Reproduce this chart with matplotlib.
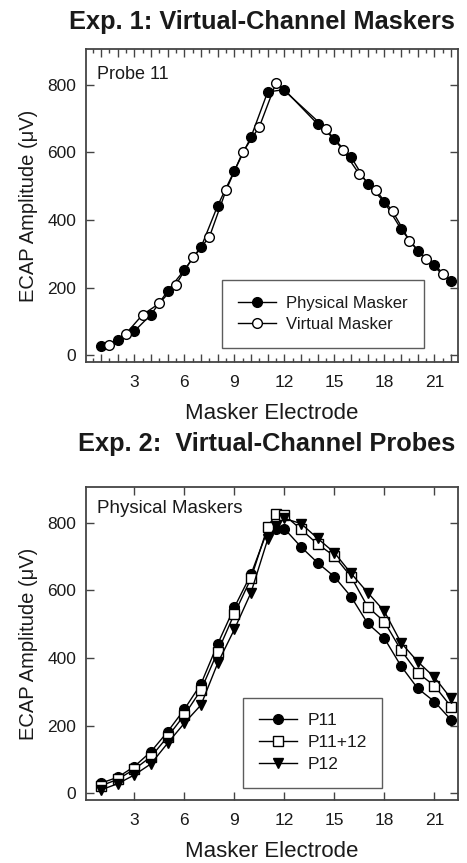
import matplotlib
matplotlib.use("Agg")
import matplotlib.pyplot as plt
from matplotlib.ticker import MultipleLocator, FixedLocator, FuncFormatter

plt.rcParams['font.family'] = ['Liberation Sans', 'DejaVu Sans']

# ---- Exp. 1 data ----
phys_x = [1, 2, 3, 4, 5, 6, 7, 8, 9, 10, 11, 12, 14, 15, 16, 17, 18, 19, 20, 21, 22]
phys_y = [27, 44, 71, 120, 190, 252, 319, 442, 545, 645, 778, 785, 683, 639, 586, 505, 453, 373, 308, 267, 219]
virt_x = [1.5, 2.5, 3.5, 4.5, 5.5, 6.5, 7.5, 8.5, 9.5, 10.5, 11.5, 14.5, 15.5, 16.5, 17.5, 18.5, 19.5, 20.5, 21.5]
virt_y = [30, 64, 120, 153, 209, 289, 349, 487, 600, 675, 805, 669, 607, 535, 487, 425, 339, 284, 239]

# ---- Exp. 2 data ----
elec = [1, 2, 3, 4, 5, 6, 7, 8, 9, 10, 11, 11.5, 12, 13, 14, 15, 16, 17, 18, 19, 20, 21, 22]
p11 = [30, 47, 79, 123, 182, 248, 323, 441, 549, 647, 778, 780, 782, 728, 681, 640, 581, 502, 458, 376, 310, 271, 217]
p11_12 = [22, 41, 71, 108, 167, 231, 305, 418, 530, 635, 787, 825, 822, 780, 736, 701, 640, 551, 507, 423, 356, 318, 256]
p12 = [10, 28, 54, 87, 148, 207, 261, 384, 484, 593, 750, 790, 812, 797, 753, 711, 650, 593, 538, 445, 389, 343, 280]

xtick_vals = [3, 6, 9, 12, 15, 18, 21]
ytick_vals = [0, 200, 400, 600, 800]

W, H = 467, 863
fig = plt.figure(figsize=(W / 100, H / 100), dpi=100)

def ax_rect(left, top, right, bottom):
    return [left / W, 1 - bottom / H, (right - left) / W, (bottom - top) / H]

ax1 = fig.add_axes(ax_rect(86, 49, 458, 362))
ax2 = fig.add_axes(ax_rect(86, 487, 458, 800))

txt = '#1a1a1a'
spc = '#444444'
ms = 7

def style(ax):
    ax.set_xlim(0.1, 22.42)
    ax.set_ylim(-20, 905)
    ax.yaxis.set_major_locator(FixedLocator(ytick_vals))
    for s in ax.spines.values():
        s.set_color(spc)
        s.set_linewidth(1.3)
    ax.tick_params(axis='both', which='major', direction='in', length=6, width=1,
                   top=True, right=True, labelsize=12.5, colors=txt, color=spc)
    ax.tick_params(axis='x', which='major', pad=9)
    ax.tick_params(axis='y', which='major', pad=7)
    ax.set_xlabel('Masker Electrode', fontsize=16, color=txt, labelpad=10)
    ax.set_ylabel('ECAP Amplitude (\u03bcV)', fontsize=14.5, color=txt)
    ax.yaxis.set_label_coords(-0.128, 0.5)

# top panel: ticks at every half electrode, labels at multiples of 3
style(ax1)
ax1.xaxis.set_major_locator(MultipleLocator(1))
ax1.xaxis.set_major_formatter(FuncFormatter(lambda v, p: f"{int(round(v))}" if int(round(v)) in xtick_vals else ""))
ax1.xaxis.set_minor_locator(MultipleLocator(0.5))
ax1.tick_params(axis='x', which='major', length=6)
ax1.tick_params(axis='x', which='minor', direction='in', length=3, width=1,
                top=True, bottom=True, color=spc)

ax1.plot(phys_x, phys_y, '-o', color='black', lw=1, ms=ms, mfc='black', mec='black',
         label='Physical Masker', zorder=3)
ax1.plot(virt_x, virt_y, '-o', color='black', lw=1, ms=ms, mfc='white', mec='black',
         mew=1, label='Virtual Masker', zorder=4)
leg1 = ax1.legend(loc='lower left', bbox_to_anchor=(0.366, 0.045), fontsize=12,
                  frameon=True, fancybox=False, edgecolor='#333333', handlelength=2.3,
                  handletextpad=0.6, borderpad=0.95, labelspacing=0.35, borderaxespad=0)
leg1.get_frame().set_linewidth(1)
for t in leg1.get_texts():
    t.set_color(txt)
ax1.text(0.03, 0.92, 'Probe 11', transform=ax1.transAxes, fontsize=13, color=txt,
         va='center', ha='left')

# bottom panel
style(ax2)
ax2.xaxis.set_major_locator(FixedLocator(xtick_vals))
ax2.plot(elec, p11, '-o', color='black', lw=1, ms=ms, mfc='black', mec='black', label='P11', zorder=3)
ax2.plot(elec, p11_12, '-s', color='black', lw=1, ms=6.5, mfc='white', mec='black', mew=1,
         label='P11+12', zorder=4)
ax2.plot(elec, p12, '-v', color='black', lw=1, ms=7.5, mfc='black', mec='black', label='P12', zorder=5)
leg2 = ax2.legend(loc='lower left', bbox_to_anchor=(0.422, 0.038), fontsize=12.5,
                  frameon=True, fancybox=False, edgecolor='#333333', handlelength=2.2,
                  handletextpad=0.6, borderpad=0.9, labelspacing=0.4, borderaxespad=0)
leg2.get_frame().set_linewidth(1)
for t in leg2.get_texts():
    t.set_color(txt)
ax2.text(0.03, 0.93, 'Physical Maskers', transform=ax2.transAxes, fontsize=13.5, color=txt,
         va='center', ha='left')

fig.text(262 / W, 1 - 22 / H, 'Exp. 1: Virtual-Channel Maskers', fontsize=18.3, fontweight='bold',
         ha='center', va='center', color=txt)
fig.text(267 / W, 1 - 444 / H, 'Exp. 2:  Virtual-Channel Probes', fontsize=18.3, fontweight='bold',
         ha='center', va='center', color=txt)

fig.savefig('out.png', dpi=100)
